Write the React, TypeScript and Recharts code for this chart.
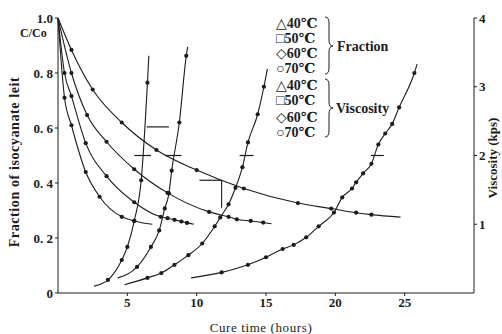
import { LineChart, Line, XAxis, YAxis, ReferenceLine } from "recharts";

// Fraction of isocyanate left (C/Co), left axis
const fracTime40 = [0, 0.97, 2.5, 4.6, 7.1, 10.0, 13.4, 17.3, 19.7, 21.5, 22.6, 24.7];
const frac40 = [1.0, 0.884, 0.74, 0.62, 0.52, 0.447, 0.38, 0.327, 0.307, 0.292, 0.285, 0.276];
const fracTime50 = [0, 0.97, 2.1, 3.5, 5.5, 7.9, 10.9, 12.3, 12.9, 13.9, 14.8, 15.4];
const frac50 = [1.0, 0.8, 0.647, 0.55, 0.45, 0.364, 0.295, 0.277, 0.268, 0.262, 0.256, 0.252];
const fracTime60 = [0, 0.47, 0.97, 2.0, 3.5, 5.5, 7.4, 7.9, 8.4, 8.9, 9.3, 9.8];
const frac60 = [1.0, 0.8, 0.716, 0.545, 0.425, 0.33, 0.277, 0.272, 0.266, 0.26, 0.255, 0.25];
const fracTime70 = [0, 0.47, 0.97, 2.0, 3.0, 4.6, 5.5, 6.8];
const frac70 = [1.0, 0.71, 0.61, 0.44, 0.35, 0.277, 0.262, 0.25];

// Viscosity (kps), right axis
const viscTime70 = [2.6, 3.6, 4.6, 5.0, 5.5, 6.0, 6.45, 6.55];
const visc70 = [0.1, 0.19, 0.48, 0.67, 1.05, 1.64, 3.06, 3.45];
const viscTime60 = [4.3, 5.7, 6.7, 7.3, 7.7, 8.0, 8.2, 8.75, 9.25, 9.35];
const visc60 = [0.22, 0.38, 0.67, 0.91, 1.23, 1.45, 1.78, 2.48, 3.45, 3.58];
const viscTime50 = [4.8, 6.45, 7.45, 8.4, 9.4, 10.4, 11.3, 11.7, 12.3, 12.8, 13.3, 13.7, 14.4, 14.85, 15.1];
const visc50 = [0.12, 0.22, 0.29, 0.41, 0.55, 0.72, 0.97, 1.1, 1.29, 1.53, 1.83, 2.19, 2.6, 3.0, 3.26];
const viscTime40 = [9.6, 11.8, 13.7, 15.0, 16.2, 17.0, 17.9, 18.8, 19.9, 20.5, 21.2, 21.5, 22.0, 22.6, 23.1, 23.6, 24.1, 24.6, 25.7, 25.9];
const visc40 = [0.22, 0.3, 0.41, 0.52, 0.64, 0.7, 0.81, 0.97, 1.17, 1.39, 1.52, 1.61, 1.74, 1.88, 2.16, 2.32, 2.46, 2.7, 3.2, 3.33];

// gel-point marks (hours from / to, fraction level)
const gelFrom = [5.5, 7.7, 13.1, 22.55, 6.4, 10.2];
const gelTo = [6.7, 8.9, 14.1, 23.5, 8.0, 11.8];
const gelLevel = [0.5, 0.5, 0.5, 0.5, 0.604, 0.41];

const xTicks = [5, 10, 15, 20, 25];
const leftTicks = [0, 0.2, 0.4, 0.6, 0.8, 1.0];
const leftTickLabels = ["0", "0. 2", "0. 4", "0. 6", "0. 8", "1.0"];
const rightTicks = [1, 2, 3, 4];
const legendRows = ["△40℃", "□50℃", "◇60℃", "○70℃", "△40℃", "□50℃", "◇60℃", "○70℃"];

const ink = "#1c1c1c";
const serif = "'Liberation Serif', 'DejaVu Serif', serif";

const toPoints = (xs: number[], ys: number[]) => xs.map((x, i) => ({ x, y: ys[i] }));

// marker on every measured point, none on the curve ends
const makeDot = (n: number) => (props: any) => {
    const { cx, cy, index } = props;
    if (index === 0 || index === n - 1 || cx == null) return <g key={`d${index}`} />;
    return <circle key={`d${index}`} cx={cx} cy={cy} r={2.1} fill={ink} />;
};

const fracSeries = [
    toPoints(fracTime40, frac40),
    toPoints(fracTime50, frac50),
    toPoints(fracTime60, frac60),
    toPoints(fracTime70, frac70),
];
const viscSeries = [
    toPoints(viscTime70, visc70),
    toPoints(viscTime60, visc60),
    toPoints(viscTime50, visc50),
    toPoints(viscTime40, visc40),
];

const tickStyle = { fontFamily: serif, fontSize: 13, fontWeight: 700, fill: ink };

export default function App() {
    return (
        <div style={{ position: "absolute", left: 0, top: 0, width: 502, height: 334, background: "#fff" }}>
            <LineChart width={502} height={334} margin={{ top: 18, right: 0, bottom: 0, left: 0 }}>
                <XAxis
                    type="number"
                    dataKey="x"
                    domain={[0, 30]}
                    ticks={xTicks}
                    height={41}
                    tickSize={3}
                    tick={tickStyle}
                    stroke={ink}
                    allowDuplicatedCategory={false}
                />
                <YAxis
                    yAxisId="left"
                    type="number"
                    domain={[0, 1]}
                    ticks={leftTicks}
                    width={58}
                    tickSize={3}
                    tick={tickStyle}
                    tickFormatter={(v: number) => leftTickLabels[leftTicks.indexOf(v)] ?? String(v)}
                    stroke={ink}
                />
                <YAxis
                    yAxisId="right"
                    orientation="right"
                    type="number"
                    domain={[0, 4]}
                    ticks={rightTicks}
                    width={28}
                    tickSize={3}
                    tick={tickStyle}
                    stroke={ink}
                />
                {fracSeries.map((d, i) => (
                    <Line
                        key={`f${i}`}
                        yAxisId="left"
                        data={d}
                        dataKey="y"
                        type="monotone"
                        stroke={ink}
                        strokeWidth={1.1}
                        dot={makeDot(d.length)}
                        activeDot={false}
                        isAnimationActive={false}
                    />
                ))}
                {viscSeries.map((d, i) => (
                    <Line
                        key={`v${i}`}
                        yAxisId="right"
                        data={d}
                        dataKey="y"
                        type="monotone"
                        stroke={ink}
                        strokeWidth={1.1}
                        dot={makeDot(d.length)}
                        activeDot={false}
                        isAnimationActive={false}
                    />
                ))}
                {gelFrom.map((x1, i) => (
                    <ReferenceLine
                        key={`g${i}`}
                        yAxisId="left"
                        segment={[{ x: x1, y: gelLevel[i] }, { x: gelTo[i], y: gelLevel[i] }]}
                        stroke={ink}
                        strokeWidth={1.2}
                    />
                ))}
                <ReferenceLine
                    yAxisId="left"
                    segment={[{ x: gelTo[5], y: gelLevel[5] }, { x: gelTo[5], y: 0.31 }]}
                    stroke={ink}
                    strokeWidth={1.1}
                />
            </LineChart>
            <svg
                width={502}
                height={334}
                style={{ position: "absolute", left: 0, top: 0, pointerEvents: "none" }}
            >
                <text x={20} y={37} fontFamily={serif} fontSize={12} fontWeight={700} fill={ink}>C/Co</text>
                <text
                    transform="translate(19,162) rotate(-90)"
                    textAnchor="middle"
                    fontFamily={serif}
                    fontSize={14}
                    fontWeight={700}
                    letterSpacing={0.6}
                    fill={ink}
                >
                    Fraction of isocyanate leit
                </text>
                <text
                    transform="translate(497,158) rotate(-90)"
                    textAnchor="middle"
                    fontFamily={serif}
                    fontSize={13}
                    fontWeight={700}
                    fill={ink}
                >
                    Viscosity (kps)
                </text>
                <text x={261} y={332} textAnchor="middle" fontFamily={serif} fontSize={13} letterSpacing={0.6} fill={ink}>
                    Cure time (hours)
                </text>
                {legendRows.map((t, i) => (
                    <text
                        key={t + i}
                        x={276}
                        y={[23, 38, 53, 68, 85, 100, 117, 132][i] + 5}
                        fontFamily={serif}
                        fontSize={14}
                        fontWeight={700}
                        fill={ink}
                    >
                        {t}
                    </text>
                ))}
                <path d="M325,17 Q329,17 329,23 L329,40 Q329,46 333,46 Q329,46 329,52 L329,68 Q329,74 325,74" fill="none" stroke={ink} strokeWidth={1} />
                <path d="M325,79 Q329,79 329,85 L329,102 Q329,108 333,108 Q329,108 329,114 L329,131 Q329,137 325,137" fill="none" stroke={ink} strokeWidth={1} />
                <text x={337} y={51} fontFamily={serif} fontSize={14} fontWeight={700} fill={ink}>Fraction</text>
                <text x={336} y={113} fontFamily={serif} fontSize={14} fontWeight={700} fill={ink}>Viscosity</text>
            </svg>
        </div>
    );
}
